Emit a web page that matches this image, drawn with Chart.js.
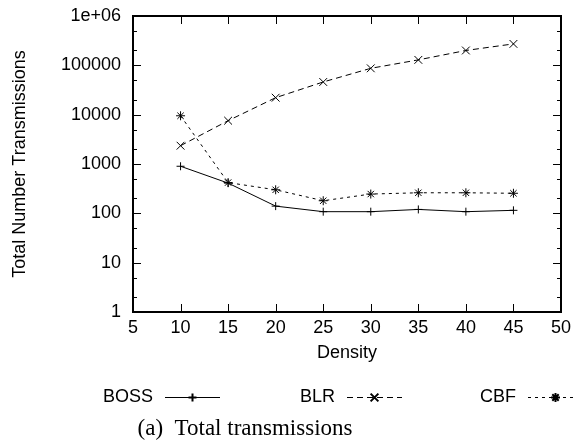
<!DOCTYPE html>
<html>
<head>
<meta charset="utf-8">
<script src="https://cdn.jsdelivr.net/npm/chart.js@4"></script>
<style>
  html, body { margin: 0; padding: 0; background: #fff; }
  canvas { display: block; }
</style>
</head>
<body>
<canvas id="chart" width="577" height="448"></canvas>
<script>
// datos
const density = [10, 15, 20, 25, 30, 35, 40, 45];
const boss = [900, 410, 140, 108, 108, 120, 108, 115];
const blr = [2350, 7550, 22100, 46000, 87000, 129000, 200000, 272000];
const cbf = [9500, 420, 300, 180, 246, 261, 261, 255];

const xTicks = [5, 10, 15, 20, 25, 30, 35, 40, 45, 50];
const yTicks = [1, 10, 100, 1000, 10000, 100000, 1000000];
const yTickLabels = ['1', '10', '100', '1000', '10000', '100000', '1e+06'];

const seriesNames = ['BOSS', 'BLR', 'CBF'];
const xTitle = 'Density';
const yTitle = 'Total Number Transmissions';
const caption = '(a)  Total transmissions';

const SANS = "'Liberation Sans', Arial, sans-serif";
const SERIF = "'Liberation Serif', 'Times New Roman', serif";

const toPoints = arr => density.map((d, i) => ({ x: d, y: arr[i] }));

// marco y marcas hacia dentro, estilo gnuplot
const frameTicks = {
    id: 'frameTicks',
    afterDatasetsDraw(chart) {
        const { ctx, chartArea: a, scales: { x, y } } = chart;
        ctx.save();
        ctx.strokeStyle = '#000';
        ctx.lineWidth = 1;
        ctx.beginPath();
        x.ticks.forEach(t => {
            const px = Math.round(x.getPixelForValue(t.value)) + 0.5;
            ctx.moveTo(px, a.bottom); ctx.lineTo(px, a.bottom - 8);
            ctx.moveTo(px, a.top); ctx.lineTo(px, a.top + 8);
        });
        y.ticks.forEach(t => {
            const py = Math.round(y.getPixelForValue(t.value)) + 0.5;
            const len = yTicks.includes(t.value) ? 8 : 4;
            ctx.moveTo(a.left, py); ctx.lineTo(a.left + len, py);
            ctx.moveTo(a.right, py); ctx.lineTo(a.right - len, py);
        });
        ctx.stroke();
        ctx.lineWidth = 2;
        ctx.strokeRect(a.left, a.top, a.right - a.left, a.bottom - a.top);

        // titulos de ejes
        ctx.fillStyle = '#000';
        ctx.font = '18px ' + SANS;
        ctx.textAlign = 'center';
        ctx.textBaseline = 'middle';
        ctx.fillText(xTitle, (a.left + a.right) / 2, 353);
        ctx.save();
        ctx.translate(20, (a.top + a.bottom) / 2);
        ctx.rotate(-Math.PI / 2);
        ctx.fillText(yTitle, 0, 0);
        ctx.restore();

        // leyenda: texto a la izquierda, muestra de linea con marcador
        const textRight = [153, 335, 516];
        chart.data.datasets.forEach((ds, i) => {
            const ly = 397;
            ctx.textAlign = 'right';
            ctx.fillText(ds.label, textRight[i], ly);
            const x0 = textRight[i] + 12, x1 = x0 + 55;
            ctx.save();
            ctx.lineWidth = 1;
            ctx.setLineDash(ds.borderDash || []);
            ctx.beginPath();
            ctx.moveTo(x0, ly + 0.5); ctx.lineTo(x1, ly + 0.5);
            ctx.stroke();
            ctx.restore();
            Chart.helpers.drawPoint(ctx, {
                pointStyle: ds.pointStyle, radius: ds.pointRadius,
                borderWidth: 1, rotation: 0
            }, (x0 + x1) / 2, ly + 0.5);
        });

        // pie de figura
        ctx.font = '23px ' + SERIF;
        ctx.textAlign = 'center';
        ctx.fillText(caption, 245, 429);
        ctx.restore();
    }
};

const common = {
    borderColor: '#000',
    backgroundColor: '#000',
    pointBorderColor: '#000',
    pointBackgroundColor: '#000',
    borderWidth: 1,
    pointBorderWidth: 1,
    tension: 0,
    fill: false
};

new Chart(document.getElementById('chart').getContext('2d'), {
    type: 'line',
    data: {
        datasets: [
            { ...common, label: seriesNames[0], data: toPoints(boss), pointStyle: 'cross', pointRadius: 4 },
            { ...common, label: seriesNames[1], data: toPoints(blr), pointStyle: 'crossRot', pointRadius: 5.5, borderDash: [6, 4] },
            { ...common, label: seriesNames[2], data: toPoints(cbf), pointStyle: 'star', pointRadius: 4.5, borderDash: [3, 4] }
        ]
    },
    options: {
        responsive: false,
        animation: false,
        devicePixelRatio: 1,
        layout: { padding: { left: 0, top: 16, right: 16, bottom: 0 } },
        plugins: { legend: { display: false }, tooltip: { enabled: false } },
        scales: {
            x: {
                type: 'linear',
                min: 5,
                max: 50,
                afterBuildTicks: s => { s.ticks = xTicks.map(v => ({ value: v })); },
                afterFit: s => { s.height = 448 - 312; s.paddingLeft = 0; s.paddingRight = 0; },
                grid: { display: false, drawTicks: false },
                border: { display: false },
                ticks: { color: '#000', font: { family: SANS, size: 18 }, padding: 5, maxRotation: 0 }
            },
            y: {
                type: 'logarithmic',
                min: 1,
                max: 1000000,
                afterBuildTicks: s => {
                    const t = [];
                    yTicks.forEach(v => {
                        t.push({ value: v });
                        if (v < 1000000) { t.push({ value: v * 2 }); t.push({ value: v * 5 }); }
                    });
                    s.ticks = t;
                },
                afterFit: s => { s.width = 133; s.paddingTop = 0; s.paddingBottom = 0; },
                grid: { display: false, drawTicks: false },
                border: { display: false },
                ticks: {
                    color: '#000',
                    font: { family: SANS, size: 18 },
                    padding: 12,
                    autoSkip: false,
                    callback: v => {
                        const i = yTicks.indexOf(v);
                        return i >= 0 ? yTickLabels[i] : '';
                    }
                }
            }
        }
    },
    plugins: [frameTicks]
});
</script>
</body>
</html>
